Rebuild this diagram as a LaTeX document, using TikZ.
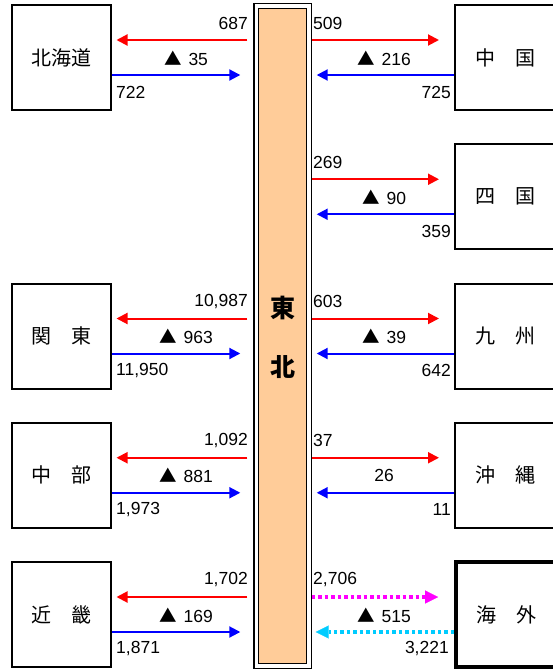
\documentclass[tikz,border=0pt]{standalone}
\usepackage{fontspec}
\setmainfont{Liberation Sans}
\newfontfamily\cjk{Noto Sans CJK JP}
\usetikzlibrary{arrows.meta,calc}
\definecolor{peach}{RGB}{255,204,153}
\definecolor{mag}{RGB}{255,0,255}
\definecolor{cyn}{RGB}{0,204,255}
\tikzset{
  lbox/.style={draw, line width=2pt, minimum width=99pt, minimum height=105pt, inner sep=0pt, font=\cjk\fontsize{20}{20}\selectfont},
  rbox/.style={lbox, minimum width=100pt},
  num/.style={inner sep=0pt, font=\fontsize{17.5}{17.5}\selectfont},
  arr/.style={line width=2pt, -{Triangle[length=11pt,width=11pt]}},
  redarr/.style={arr, draw=red},
  bluearr/.style={arr, draw=blue},
  dotarr/.style={line width=3.5pt, dash pattern=on 3.5pt off 3pt, -{Triangle[length=13pt,width=13pt,line width=0.1pt]}},
}
\newcommand\tri{{\cjk ▲}\hspace{7pt}}
% left row: name, label, Y, upper, lower, middle
\newcommand\LRow[6]{%
  \node[lbox] (#1) at (61.5,#3+17.5) {#2};
  \draw[redarr] ($(bar.west |- 0,#3)+(-10.5,0)$) -- ($(#1.east |- 0,#3)+(4.5,0)$);
  \draw[bluearr] (#1.east |- 0,#3+35) -- ($(bar.west |- 0,#3+35)+(-17.5,0)$);
  \node[num, anchor=east] (#1u) at (248,#3-17) {#4};
  \node[num, anchor=west] (#1d) at (116,#3+52) {#5};
  \node[num] (#1m) at (186,#3+18) {#6};
}
\newcommand\RRow[6]{%
  \node[rbox] (#1) at (505,#3+17.5) {#2};
  \draw[redarr] ($(bar.east |- 0,#3)+(4.5,0)$) -- ($(#1.west |- 0,#3)+(-15,0)$);
  \draw[bluearr] (#1.west |- 0,#3+35) -- ($(bar.east |- 0,#3+35)+(9.5,0)$);
  \node[num, anchor=west] (#1u) at (313,#3-17) {#4};
  \node[num, anchor=east] (#1d) at (451,#3+52) {#5};
  \node[num] (#1m) at (384,#3+18) {#6};
}
\begin{document}
\begin{tikzpicture}[x=1pt,y=-1pt]
\useasboundingbox (0,0) rectangle (553,669);
% central bar
\node[draw, fill=peach, line width=1.4pt, minimum width=48pt, minimum height=655pt, inner sep=0pt] (bar) at (282.5,336) {};
\draw[line width=1.4pt] ($(bar.north west)+(-4,-4)$) rectangle ($(bar.south east)+(4,4)$);
\node[font=\cjk\bfseries\fontsize{25}{25}\selectfont, inner sep=0pt] (t1) at (282.5,308) {東};
\node[font=\cjk\bfseries\fontsize{25}{25}\selectfont, inner sep=0pt] (t2) at (282.5,367) {北};
% left side
\LRow{hkd}{北海道}{40}{687}{722}{\tri 35}
\LRow{kto}{関　東}{318.5}{10,987}{11,950}{\tri 963}
\LRow{cbu}{中　部}{457.75}{1,092}{1,973}{\tri 881}
\LRow{kki}{近　畿}{597}{1,702}{1,871}{\tri 169}
% right side
\RRow{cgk}{中　国}{40}{509}{725}{\tri 216}
\RRow{skk}{四　国}{179.25}{269}{359}{\tri 90}
\RRow{kys}{九　州}{318.5}{603}{642}{\tri 39}
\RRow{okn}{沖　縄}{457.75}{37}{11}{26}
% overseas
\node[rbox, line width=3.8pt] (kgi) at (506,614.5) {海　外};
\draw[dotarr, draw=mag] ($(bar.east |- 0,597)+(4.5,0)$) -- ($(kgi.west |- 0,597)+(-16,0)$);
\draw[dotarr, draw=cyn] (kgi.west |- 0,632) -- ($(bar.east |- 0,632)+(8.5,0)$);
\node[num, anchor=west] (kgiu) at (313,580) {2,706};
\node[num, anchor=east] (kgid) at (449,649) {3,221};
\node[num] (kgim) at (384,615) {\tri 515};
\end{tikzpicture}
\end{document}
